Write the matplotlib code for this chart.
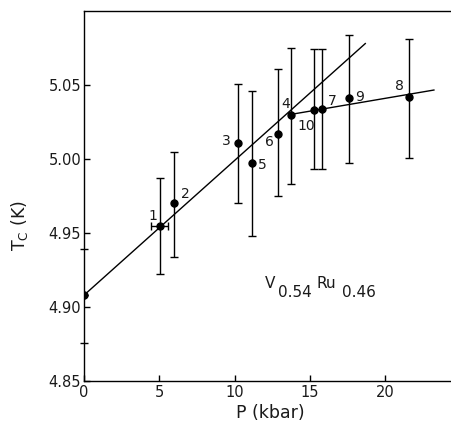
import matplotlib
matplotlib.use("Agg")
import matplotlib.pyplot as plt
import matplotlib.transforms as mtransforms
import numpy as np

# Pressure runs (kbar), Tc (K) and error bars
run_labels = ["", "1", "2", "3", "5", "6", "4", "10", "7", "9", "8"]
pressure = [0.0, 5.04, 5.97, 10.2, 11.17, 12.92, 13.78, 15.28, 15.84, 17.63, 21.57]
tc = [4.908, 4.955, 4.970, 5.011, 4.997, 5.017, 5.030, 5.033, 5.034, 5.041, 5.042]
tc_upper = [np.nan, 4.987, 5.005, 5.051, 5.046, 5.061, 5.075, 5.074, 5.074, 5.084, 5.081]
tc_lower = [np.nan, 4.922, 4.934, 4.970, 4.948, 4.975, 4.983, 4.993, 4.993, 4.997, 5.001]
p_err = [0.0, 0.57, 0, 0, 0, 0, 0, 0, 0, 0, 0]

# Linear fits: low-pressure and high-pressure branches
fit1_p = [0.0, 18.69]
fit1_tc = [4.908, 5.078]
fit2_p = [13.9, 23.25]
fit2_tc = [5.0304, 5.0466]

x_ticks = [0, 5, 10, 15, 20]
y_ticks = [4.85, 4.90, 4.95, 5.00, 5.05]
y_minor = [4.876, 4.939]

# run-number label offsets in points (dx, dy)
offsets = {"1": (-8, 4), "2": (5, 4), "3": (-11, -2), "5": (4, -4), "6": (-10, -9),
           "4": (-7, 5), "10": (-12, -14), "7": (4, 3), "9": (4, -2), "8": (-10, 5)}

ink = "#1a1a1a"
plt.rcParams["font.family"] = ["DejaVu Sans"]
fig = plt.figure(figsize=(4.51, 4.21), dpi=100)
ax = fig.add_axes([84 / 451, 40 / 421, 367 / 451, 370 / 421])

lw = 1.0
ax.plot(fit1_p, fit1_tc, color="black", lw=lw)
ax.plot(fit2_p, fit2_tc, color="black", lw=lw)

tc_arr = np.array(tc)
yerr = np.vstack([tc_arr - np.array(tc_lower), np.array(tc_upper) - tc_arr])
yerr = np.nan_to_num(yerr)
ax.errorbar(pressure, tc, yerr=yerr, xerr=p_err, fmt="o", color="black",
            ms=5, elinewidth=1.0, capsize=3, capthick=1.0, zorder=3)

for p, t, lab in zip(pressure, tc, run_labels):
    if lab:
        dx, dy = offsets[lab]
        ax.annotate(lab, (p, t), xytext=(dx, dy), textcoords="offset points",
                    fontsize=10, color=ink)

# composition label with full-size subscripts
comp_x, comp_y = 12.03, 4.9128
pieces = [("V", 0, 0), ("0.54", 9.4, -6.5), ("Ru", 37.4, 0), ("0.46", 55.4, -6.5)]
for s, dx, dy in pieces:
    tr = mtransforms.offset_copy(ax.transData, fig=fig, x=dx, y=dy, units="points")
    ax.text(comp_x, comp_y, s, transform=tr, fontsize=11, ha="left",
            va="baseline", color=ink)

ax.set_xlim(0, 367 / 15.05)
ax.set_ylim(4.85, 5.10)
ax.set_xticks(x_ticks)
ax.set_yticks(y_ticks)
ax.set_yticks(y_minor, minor=True)
ax.set_xticklabels([str(v) for v in x_ticks])
ax.set_yticklabels([f"{v:.2f}" for v in y_ticks])
ax.tick_params(axis="both", which="major", direction="in", length=4, width=1.0,
               labelsize=10.5, pad=3, labelcolor=ink)
ax.tick_params(axis="y", which="major", pad=2)
ax.tick_params(axis="y", which="minor", direction="inout", length=6, width=1.0)
ax.spines["right"].set_visible(False)
for s in ("left", "top", "bottom"):
    ax.spines[s].set_linewidth(1.0)

ax.set_xlabel("P (kbar)", fontsize=12.5, color=ink)
ax.set_ylabel(r"T$_{\rm C}$ (K)", fontsize=12.5, color=ink)
ax.xaxis.set_label_coords((270 - 84) / 367, -(412.7 - 381) / 370)
ax.xaxis.label.set_va("center")
ax.yaxis.set_label_coords(-(84 - 19) / 367, (381 - 226) / 370)
ax.yaxis.label.set_va("center")

fig.savefig("out.png", dpi=100)
